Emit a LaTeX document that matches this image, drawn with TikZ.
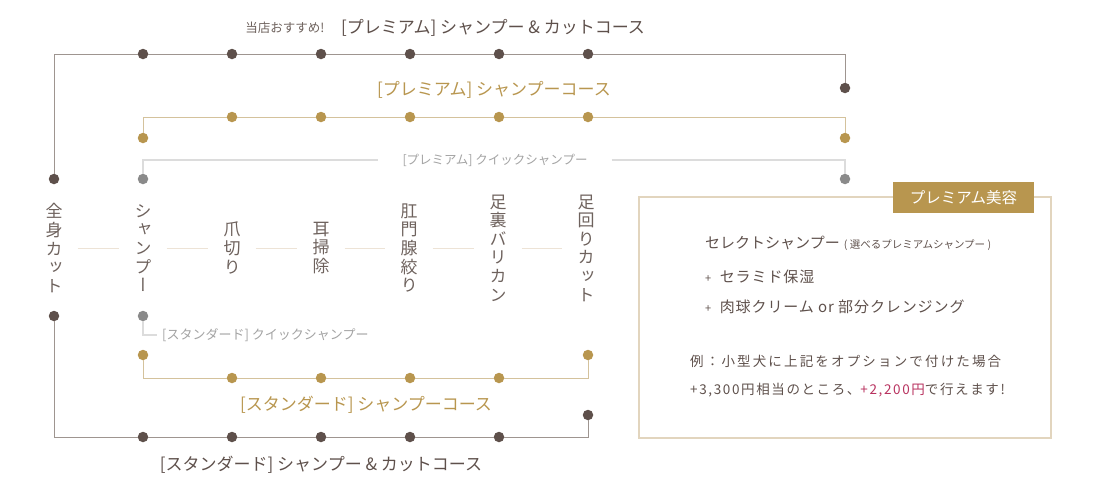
\documentclass[tikz,border=0pt]{standalone}
\usepackage{fontspec}
\setmainfont{Noto Sans CJK JP}
\newfontfamily\vjp[RawFeature=+vert]{Noto Sans CJK JP}
\newfontfamily\jpwide[LetterSpace=16]{Noto Sans CJK JP}
\newfontfamily\jpwider[LetterSpace=12]{Noto Sans CJK JP}
\newfontfamily\jpsoft[LetterSpace=6]{Noto Sans CJK JP}
\usepackage{tikz}
\usepackage{xcolor}
\definecolor{ink}{HTML}{5E504B}
\definecolor{softink}{HTML}{6E625D}
\definecolor{gold}{HTML}{B8964F}
\definecolor{paleGold}{HTML}{D4C29C}
\definecolor{lineBrown}{HTML}{9E9590}
\definecolor{quickGray}{HTML}{DCDCDC}
\definecolor{dotGray}{HTML}{8A8A8A}
\definecolor{textGray}{HTML}{A3A3A3}
\definecolor{linkBeige}{HTML}{EDE3D6}
\definecolor{boxLine}{HTML}{E2D5BE}
\definecolor{accent}{HTML}{B8325F}

\begin{document}
\begin{tikzpicture}[x=1pt, y=-1pt,
  dotdark/.style={circle, fill=ink, inner sep=0pt, minimum size=10.5pt},
  dotgold/.style={dotdark, fill=gold},
  dotgray/.style={dotdark, fill=dotGray},
  wayink/.style={draw=lineBrown, line width=0.8pt},
  waygold/.style={draw=paleGold, line width=1pt},
  wayquick/.style={draw=quickGray, line width=1.5pt},
  link/.style={draw=linkBeige, line width=1pt, shorten <=15pt, shorten >=15pt},
  vlabel/.style={inner sep=0pt, align=center, text=softink, font=\vjp\fontsize{17}{18.6}\selectfont},
  title/.style={inner sep=1pt, text=ink, font=\fontsize{17}{19}\selectfont},
  quick/.style={inner sep=1pt, text=textGray, font=\fontsize{12.5}{14}\selectfont},
  boxtext/.style={anchor=west, inner sep=0pt, text=ink, font=\fontsize{15}{17}\selectfont}]
  \useasboundingbox (0,0) rectangle (1110,501);

  % Menu items
  \node[vlabel] (vBody) at (54,248) {全\\身\\カ\\ッ\\ト};
  \node[vlabel] (vShampoo) at (143,248) {シ\\ャ\\ン\\プ\\ー};
  \node[vlabel] (vNail) at (232,248) {爪\\切\\り};
  \node[vlabel] (vEar) at (321,248) {耳\\掃\\除};
  \node[vlabel] (vGland) at (409,248) {肛\\門\\腺\\絞\\り};
  \node[vlabel] (vSole) at (498,248) {足\\裏\\バ\\リ\\カ\\ン};
  \node[vlabel] (vPaw) at (586,248) {足\\回\\り\\カ\\ッ\\ト};
  \foreach \a/\b in {vBody/vShampoo, vShampoo/vNail, vNail/vEar, vEar/vGland, vGland/vSole, vSole/vPaw}
    \draw[link] (\a) -- (\b);

  % Premium shampoo & cut course
  \node[title, text=softink, font=\fontsize{12.5}{14}\selectfont] (ttlRecommend) at (285,28) {当店おすすめ!};
  \node[title] (ttlPremCut) at (493,28) {[プレミアム] シャンプー \& カットコース};
  \node[dotdark] (pcStart) at (54,179) {};
  \coordinate (pcTL) at (54,54);
  \foreach \x [count=\i] in {143,232,321,410,499,588}
    \node[dotdark] (pc\i) at (\x,54) {};
  \coordinate (pcTR) at (845,54);
  \node[dotdark] (pcEnd) at (845,88) {};
  \draw[wayink] (pcStart) -- (pcTL) -- (pc1) -- (pc2) -- (pc3) -- (pc4) -- (pc5) -- (pc6) -- (pcTR) -- (pcEnd);

  % Premium shampoo course
  \node[title, text=gold] (ttlPremSh) at (494,90) {[プレミアム] シャンプーコース};
  \node[dotgold] (pgStart) at (143,138) {};
  \coordinate (pgTL) at (143,117);
  \foreach \x [count=\i] in {232,321,410,499,588}
    \node[dotgold] (pg\i) at (\x,117) {};
  \coordinate (pgTR) at (845,117);
  \node[dotgold] (pgEnd) at (845,138) {};
  \draw[waygold] (pgStart) -- (pgTL) -- (pg1) -- (pg2) -- (pg3) -- (pg4) -- (pg5) -- (pgTR) -- (pgEnd);

  % Premium quick shampoo
  \node[quick, inner xsep=24pt] (pqText) at (495,160) {[プレミアム] クイックシャンプー};
  \node[dotgray] (pqStart) at (143,179) {};
  \node[dotgray] (pqEnd) at (845,179) {};
  \coordinate (pqTL) at (143,160);
  \coordinate (pqTR) at (845,160);
  \draw[wayquick] (pqStart) -- (pqTL) -- (pqText);
  \draw[wayquick] (pqText) -- (pqTR) -- (pqEnd);

  % Standard quick shampoo
  \node[dotgray] (sqStart) at (143,316) {};
  \node[quick, anchor=west, inner xsep=5pt, font=\fontsize{13}{14}\selectfont] (sqText) at (157,335) {[スタンダード] クイックシャンプー};
  \draw[wayquick] (sqStart) |- (sqText);

  % Standard shampoo course
  \node[dotgold] (sgStart) at (143,355) {};
  \coordinate (sgBL) at (143,378);
  \foreach \x [count=\i] in {232,321,410,499}
    \node[dotgold] (sg\i) at (\x,378) {};
  \coordinate (sgBR) at (588,378);
  \node[dotgold] (sgEnd) at (588,355) {};
  \draw[waygold] (sgStart) -- (sgBL) -- (sg1) -- (sg2) -- (sg3) -- (sg4) -- (sgBR) -- (sgEnd);
  \node[title, text=gold] (ttlStdSh) at (366,405) {[スタンダード] シャンプーコース};

  % Standard shampoo & cut course
  \node[dotdark] (scStart) at (54,316) {};
  \coordinate (scBL) at (54,437);
  \foreach \x [count=\i] in {143,232,321,410,499}
    \node[dotdark] (sc\i) at (\x,437) {};
  \coordinate (scBR) at (588,437);
  \node[dotdark] (scEnd) at (588,415) {};
  \draw[wayink] (scStart) -- (scBL) -- (sc1) -- (sc2) -- (sc3) -- (sc4) -- (sc5) -- (scBR) -- (scEnd);
  \node[title] (ttlStdCut) at (321,465) {[スタンダード] シャンプー \& カットコース};

  % Premium beauty box
  \node[draw=boxLine, line width=1.2pt, minimum width=412pt, minimum height=241pt, inner sep=0pt] (premBox) at (845,317.5) {};
  \node[fill=gold, text=white, minimum width=141pt, minimum height=31pt, inner sep=0pt, font=\fontsize{15.5}{17}\selectfont] (premTag) at (963.5,197.5) {プレミアム美容};
  \node[boxtext] (boxSelect) at (705,243) {セレクトシャンプー{\fontsize{10.5}{12}\selectfont\ \,( 選べるプレミアムシャンプー )}};
  \node[boxtext, font=\jpsoft\fontsize{15}{17}\selectfont] (boxCeramide) at (705,277) {{\fontsize{11}{12}\selectfont +}\ \ セラミド保湿};
  \node[boxtext, font=\jpsoft\fontsize{15}{17}\selectfont] (boxPad) at (705,307) {{\fontsize{11}{12}\selectfont +}\ \ 肉球クリーム or 部分クレンジング};
  \node[boxtext, font=\jpwide\fontsize{13.5}{15}\selectfont] (boxEx1) at (690,361) {例：小型犬に上記をオプションで付けた場合};
  \node[boxtext, font=\jpwider\fontsize{13.5}{15}\selectfont] (boxEx2) at (690,390) {+3,300円相当のところ、\textcolor{accent}{+2,200円}で行えます!};
\end{tikzpicture}
\end{document}
